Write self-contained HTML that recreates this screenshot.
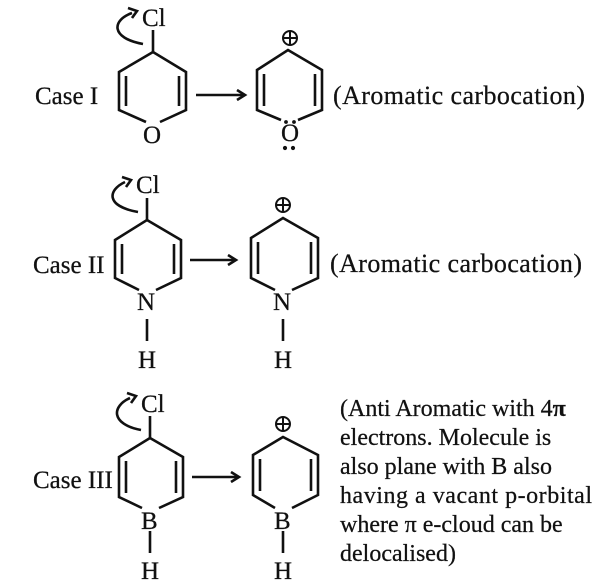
<!DOCTYPE html>
<html><head><style>
html,body{margin:0;padding:0;background:#fff;}
svg{display:block;}
text{font-family:"Liberation Serif",serif;fill:#111;stroke:#111;stroke-width:0.25;}
</style></head><body>
<svg width="600" height="586" viewBox="0 0 600 586" xmlns="http://www.w3.org/2000/svg">
<defs>
<marker id="ah" markerWidth="12" markerHeight="12" refX="9" refY="6" orient="auto" markerUnits="userSpaceOnUse">
<path d="M1,1 L9,6 L1,11" fill="none" stroke="#111" stroke-width="2.6"/>
</marker>
</defs>
<g stroke="#111" stroke-width="2.6" fill="none" stroke-linejoin="miter">
<path d="M146,122 L119,110 L119,72 L153,52 L186,72 L186,110 L160,122"/>
<path d="M126,76 L126,106 M179,76 L179,106"/>
<path d="M153,52 L153,30"/>
<path d="M143,44 C110,38 112,20 132,13" />
<path d="M128,8 L137,11 L132,18"/>
<line x1="196" y1="95" x2="245" y2="95" marker-end="url(#ah)"/>
<path d="M281,120 L257,110 L257,70 L288,50 L322,70 L322,110 L298,120"/>
<path d="M264,74 L264,106 M315,74 L315,106"/>
<circle cx="290" cy="38" r="7" stroke-width="2"/>
<path d="M283,38 L297,38 M290,31 L290,45" stroke-width="2"/>

<path d="M139,290 L115,278 L115,240 L147,220 L181,240 L181,278 L156,290"/>
<path d="M122,244 L122,274 M174,244 L174,274"/>
<path d="M147,220 L147,198"/>
<path d="M138,212 C105,206 108,190 125,182"/>
<path d="M122,177 L131,180 L126,187"/>
<line x1="147" y1="319" x2="147" y2="341"/>
<line x1="190" y1="260" x2="236" y2="260" marker-end="url(#ah)"/>
<path d="M275,290 L251,278 L251,238 L283,218 L318,238 L318,278 L292,290"/>
<path d="M258,242 L258,274 M311,242 L311,274"/>
<line x1="283" y1="319" x2="283" y2="341"/>
<circle cx="283" cy="205" r="7" stroke-width="2"/>
<path d="M276,205 L290,205 M283,198 L283,212" stroke-width="2"/>

<path d="M142,508 L119,497 L119,457 L150,438 L183,457 L183,497 L159,508"/>
<path d="M126,461 L126,493 M176,461 L176,493"/>
<path d="M150,438 L150,416"/>
<path d="M141,430 C110,424 112,406 130,398"/>
<path d="M127,393 L136,396 L131,403"/>
<line x1="150" y1="531" x2="150" y2="553"/>
<line x1="192" y1="477" x2="239" y2="477" marker-end="url(#ah)"/>
<path d="M275,508 L253,495 L253,455 L283,437 L318,455 L318,495 L292,508"/>
<path d="M260,459 L260,491 M311,459 L311,491"/>
<line x1="283" y1="531" x2="283" y2="553"/>
<circle cx="283" cy="424" r="7" stroke-width="2"/>
<path d="M276,424 L290,424 M283,417 L283,431" stroke-width="2"/>
</g>
<g font-size="25">
<text x="142" y="26">Cl</text>
<text x="35" y="104">Case I</text>
<text x="143" y="143">O</text>
<text x="281" y="141">O</text>
<text x="136" y="193">Cl</text>
<text x="33" y="273">Case II</text>
<text x="137" y="310">N</text>
<text x="138" y="368">H</text>
<text x="273" y="310">N</text>
<text x="274" y="368">H</text>
<text x="141" y="412">Cl</text>
<text x="33" y="488">Case III</text>
<text x="141" y="529">B</text>
<text x="141" y="579">H</text>
<text x="274" y="529">B</text>
<text x="274" y="579">H</text>
</g>
<g font-size="26">
<text x="333" y="104" textLength="252">(Aromatic carbocation)</text>
<text x="330" y="272" textLength="252">(Aromatic carbocation)</text>
</g>
<g fill="#111">
<circle cx="286" cy="122" r="1.9"/><circle cx="294" cy="122" r="1.9"/>
<circle cx="285" cy="148" r="2.1"/><circle cx="293" cy="148" r="2.1"/>
</g>
<g font-size="24">
<text x="340" y="416">(Anti Aromatic with 4<tspan font-weight="bold">π</tspan></text>
<text x="340" y="445">electrons. Molecule is</text>
<text x="340" y="474">also plane with B also</text>
<text x="340" y="503" textLength="252">having a vacant p-orbital</text>
<text x="340" y="532">where π e-cloud can be</text>
<text x="340" y="561">delocalised)</text>
</g>
</svg>
</body></html>
